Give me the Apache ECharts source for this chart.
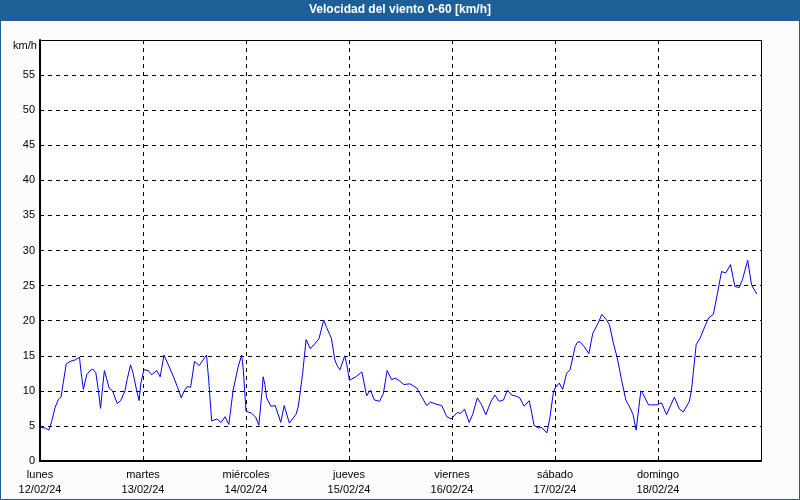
<!DOCTYPE html>
<html>
<head>
<meta charset="utf-8">
<script src="https://cdn.jsdelivr.net/npm/echarts@6/dist/echarts.min.js"></script>
<style>
html,body{margin:0;padding:0;background:#fff;}
#c{width:800px;height:500px;}
</style>
</head>
<body>
<div id="c"></div>
<script>
// Day labels (x-axis ticks, one per day start)
const dayNames = ['lunes','martes','miércoles','jueves','viernes','sábado','domingo'];
const dayDates = ['12/02/24','13/02/24','14/02/24','15/02/24','16/02/24','17/02/24','18/02/24'];
// Hours since 12/02/24 00:00
const hours = [0.0,1.2,2.1,2.7,3.5,4.3,4.9,5.4,6.1,7.0,8.2,9.2,9.5,10.1,10.9,11.7,12.3,13.0,13.6,14.1,14.6,15.0,15.5,16.1,16.9,17.5,18.0,18.8,19.8,20.3,21.1,21.7,22.5,23.1,23.5,24.2,25.2,26.0,27.2,28.0,28.9,29.9,31.1,32.0,32.9,33.6,34.3,35.1,36.0,37.1,38.8,39.3,40.0,41.2,42.2,43.1,44.0,45.0,46.2,47.0,47.4,48.0,49.3,50.3,51.0,51.7,52.0,52.4,52.8,53.8,54.8,55.3,56.1,56.9,58.1,59.7,60.2,61.2,62.0,63.0,65.0,66.1,66.8,67.9,68.7,69.3,69.9,71.0,71.5,72.1,73.6,75.0,76.1,77.0,77.9,79.1,80.0,80.9,81.9,82.8,83.8,84.8,86.2,87.8,88.9,90.1,91.0,92.3,93.6,94.8,95.8,97.2,98.0,98.9,100.0,100.8,101.9,102.9,103.9,105.0,106.0,107.0,108.0,108.9,109.9,111.1,111.8,112.8,114.0,114.6,115.1,116.1,116.9,118.1,118.8,119.6,120.0,121.0,121.8,122.7,123.5,123.9,124.7,125.2,125.8,126.8,127.9,128.8,130.1,130.9,131.9,132.7,133.6,134.5,135.5,136.5,137.4,138.2,138.9,140.0,140.4,141.8,143.8,144.8,146.0,147.8,149.0,149.9,151.3,151.8,152.9,153.8,155.0,155.8,156.9,157.8,158.8,159.8,160.9,161.9,162.9,163.7,164.9,165.8,167.0];
// Wind speed, km/h
const speed = [4.8,4.7,4.4,5.6,7.6,8.8,9.1,11.1,13.8,14.2,14.4,14.8,13.0,10.2,12.3,12.9,13.1,12.6,10.1,7.5,10.6,12.9,11.8,10.4,10.0,9.0,8.2,8.6,10.0,11.6,13.7,12.5,10.1,8.6,11.1,13.0,12.9,12.3,12.9,12.0,15.1,13.7,12.0,10.6,9.0,10.0,10.6,10.5,14.2,13.6,15.1,11.6,5.7,6.0,5.5,6.3,5.2,10.1,13.5,15.1,12.8,7.1,6.8,6.2,5.1,9.7,12.0,10.9,9.0,7.8,7.9,7.0,5.5,7.9,5.4,6.7,7.8,12.5,17.3,16.0,17.4,20.1,19.0,17.5,14.4,13.5,13.0,15.0,13.7,11.5,12.0,12.7,9.3,10.1,8.7,8.5,9.6,12.9,11.6,11.8,11.4,10.9,11.0,10.4,9.2,7.9,8.4,8.1,7.9,6.3,6.0,6.9,6.8,7.4,5.5,6.6,9.0,8.0,6.6,8.4,9.4,8.5,8.7,10.1,9.4,9.2,9.0,7.8,8.6,6.8,5.1,4.7,4.8,4.0,6.1,9.7,10.4,11.1,10.2,12.5,13.0,13.2,16.3,16.9,17.0,16.3,15.3,18.2,19.7,20.9,20.2,19.4,16.8,14.7,11.6,8.7,7.7,6.6,4.4,10.0,9.7,8.0,8.0,8.3,6.6,9.1,7.4,7.0,8.5,10.1,16.6,17.5,19.3,20.4,20.9,23.7,27.0,26.8,28.0,24.9,24.7,25.9,28.6,25.1,23.8];

const points = hours.map((h, i) => [h, speed[i]]);
const chart = echarts.init(document.getElementById('c'), null, {renderer: 'canvas'});
const font = '"Liberation Sans", Arial, sans-serif';
chart.setOption({
  animation: false,
  backgroundColor: '#fcfcfc',
  textStyle: {fontFamily: font},
  graphic: [
    {type: 'rect', shape: {x: 0, y: 0, width: 800, height: 21}, style: {fill: '#1f5f98'}, z: 10, silent: true},
    {type: 'rect', shape: {x: 0.5, y: 0.5, width: 799, height: 499}, style: {fill: 'none', stroke: '#1f5f98', lineWidth: 1}, z: 10, silent: true},
    {type: 'text', x: 400, y: 4, style: {text: 'Velocidad del viento 0-60 [km/h]', fill: '#ffffff', font: 'bold 12px ' + font, align: 'center'}, z: 11},
    {type: 'text', x: 13, y: 40, style: {text: 'km/h', fill: '#000', font: '11px ' + font}, z: 11},
    {type: 'rect', shape: {x: 40.5, y: 40.5, width: 721, height: 420}, style: {fill: 'none', stroke: '#000', lineWidth: 1}, z: 5, silent: true}
  ],
  grid: {left: 40, top: 40, width: 721, height: 421, backgroundColor: '#ffffff', show: true, borderWidth: 0, containLabel: false},
  xAxis: {
    type: 'value', min: 0, max: 168, interval: 24,
    axisLine: {show: true, onZero: false, lineStyle: {color: '#000', width: 2}},
    axisTick: {show: false},
    splitLine: {show: true, showMaxLine: false, lineStyle: {color: '#000', type: [4, 4], width: 1}},
    axisLabel: {
      color: '#000', fontSize: 11, fontFamily: font, lineHeight: 15, margin: 6,
      showMaxLabel: false,
      formatter: v => { const i = Math.round(v / 24); return i < dayNames.length ? dayNames[i] + '\n' + dayDates[i] : ''; }
    }
  },
  yAxis: {
    type: 'value', min: 0, max: 60, interval: 5,
    axisLine: {show: true, lineStyle: {color: '#000', width: 2}},
    axisTick: {show: false},
    splitLine: {show: true, lineStyle: {color: '#000', type: [4, 4], width: 1}},
    axisLabel: {color: '#000', fontSize: 11, fontFamily: font, margin: 5, showMaxLabel: false}
  },
  series: [{
    type: 'line', data: points, showSymbol: false, symbol: 'none',
    lineStyle: {color: '#0000ff', width: 1}, z: 6
  }]
});
</script>
</body>
</html>
